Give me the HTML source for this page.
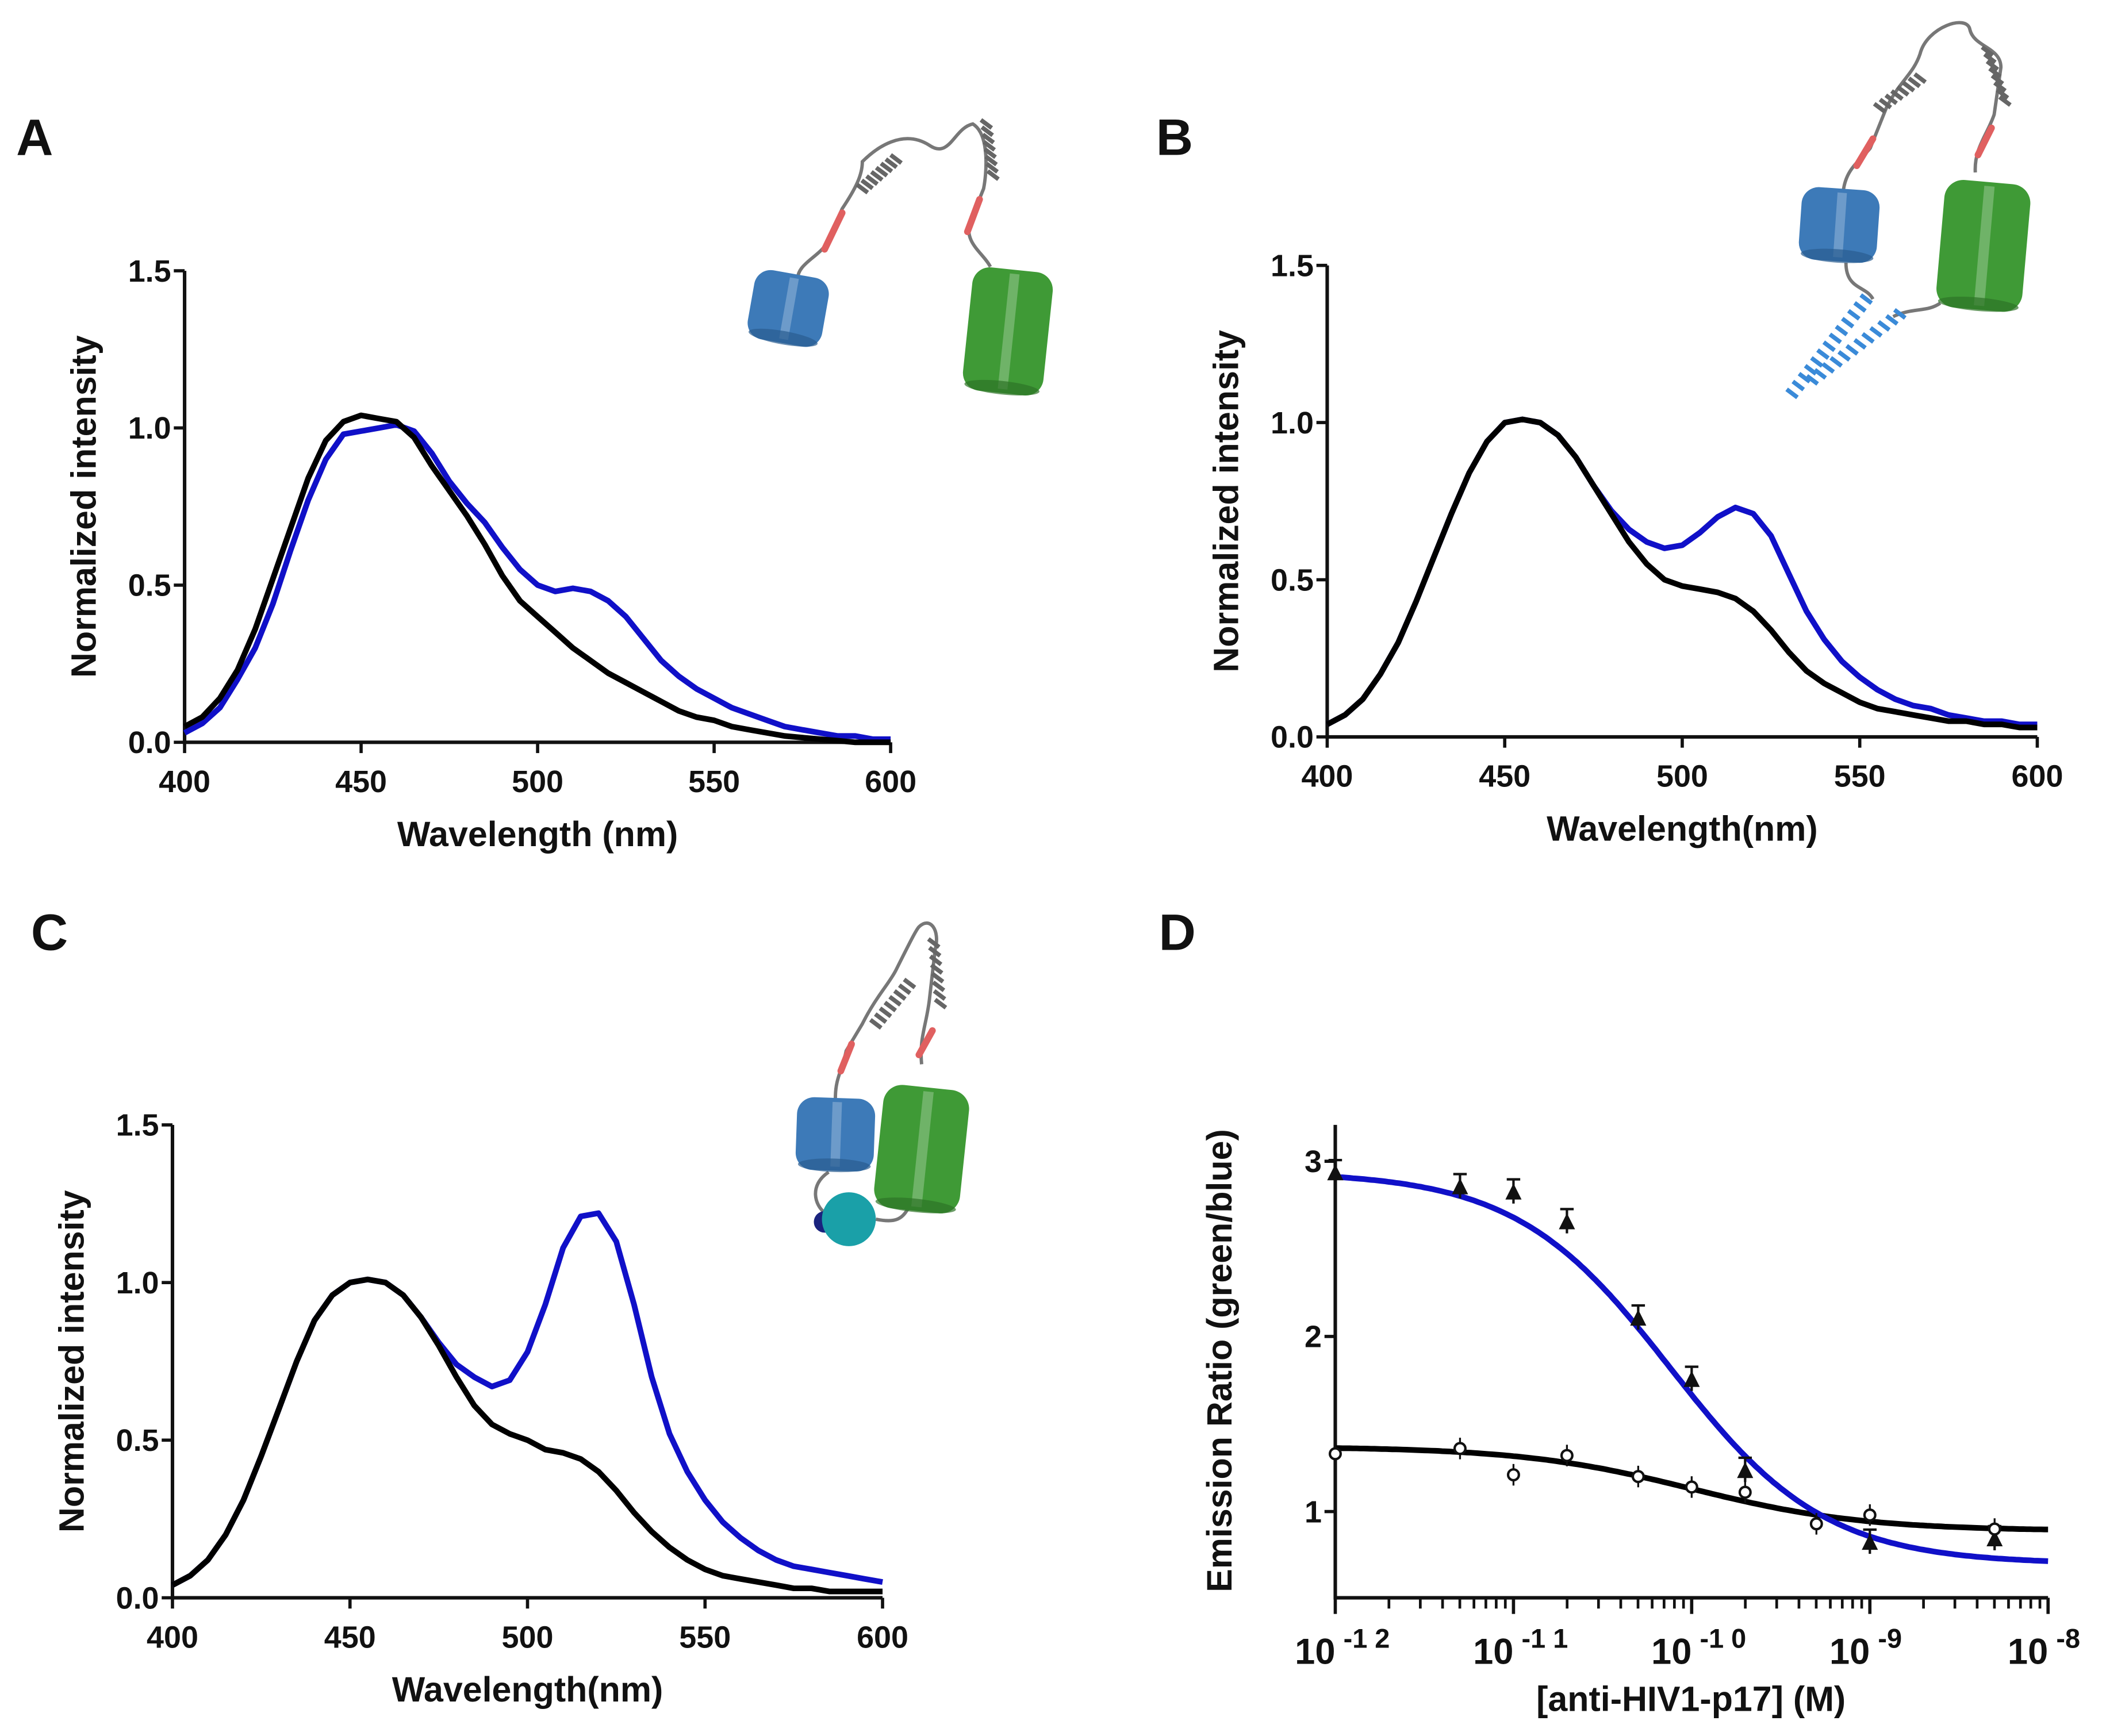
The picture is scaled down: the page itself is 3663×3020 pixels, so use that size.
<!DOCTYPE html>
<html><head><meta charset="utf-8"><style>
html,body{margin:0;padding:0;background:#fff}
svg{display:block}
text{font-family:"Liberation Sans",Arial,sans-serif;font-weight:bold;fill:#111}
</style></head><body>
<svg id="fig" xmlns="http://www.w3.org/2000/svg" width="3663" height="3020" viewBox="0 0 1563 1288.6" preserveAspectRatio="none">
<g id="root"></g>
</svg>
<script>
// ---- data ----
const wl = [400,405,410,415,420,425,430,435,440,445,450,455,460,465,470,475,480,485,490,495,500,505,510,515,520,525,530,535,540,545,550,555,560,565,570,575,580,585,590,595,600];
const aBlack = [0.05,0.08,0.14,0.23,0.36,0.52,0.68,0.84,0.96,1.02,1.04,1.03,1.02,0.97,0.88,0.80,0.72,0.63,0.53,0.45,0.40,0.35,0.30,0.26,0.22,0.19,0.16,0.13,0.10,0.08,0.07,0.05,0.04,0.03,0.02,0.015,0.01,0.005,0.0,0.0,0.0];
const aBlue = [0.03,0.06,0.11,0.20,0.30,0.44,0.61,0.77,0.90,0.98,0.99,1.00,1.01,0.99,0.92,0.83,0.76,0.70,0.62,0.55,0.50,0.48,0.49,0.48,0.45,0.40,0.33,0.26,0.21,0.17,0.14,0.11,0.09,0.07,0.05,0.04,0.03,0.02,0.02,0.01,0.01];
const bBlack = [0.04,0.07,0.12,0.20,0.30,0.43,0.57,0.71,0.84,0.94,1.00,1.01,1.00,0.96,0.89,0.80,0.71,0.62,0.55,0.50,0.48,0.47,0.46,0.44,0.40,0.34,0.27,0.21,0.17,0.14,0.11,0.09,0.08,0.07,0.06,0.05,0.05,0.04,0.04,0.03,0.03];
const bBlue = [0.04,0.07,0.12,0.20,0.30,0.43,0.57,0.71,0.84,0.94,1.00,1.01,1.00,0.96,0.89,0.80,0.72,0.66,0.62,0.60,0.61,0.65,0.70,0.73,0.71,0.64,0.52,0.40,0.31,0.24,0.19,0.15,0.12,0.10,0.09,0.07,0.06,0.05,0.05,0.04,0.04];
const cBlack = [0.04,0.07,0.12,0.20,0.31,0.45,0.60,0.75,0.88,0.96,1.00,1.01,1.00,0.96,0.89,0.80,0.70,0.61,0.55,0.52,0.50,0.47,0.46,0.44,0.40,0.34,0.27,0.21,0.16,0.12,0.09,0.07,0.06,0.05,0.04,0.03,0.03,0.02,0.02,0.02,0.02];
const cBlue = [0.04,0.07,0.12,0.20,0.31,0.45,0.60,0.75,0.88,0.96,1.00,1.01,1.00,0.96,0.89,0.81,0.74,0.70,0.67,0.69,0.78,0.93,1.11,1.21,1.22,1.13,0.93,0.70,0.52,0.40,0.31,0.24,0.19,0.15,0.12,0.10,0.09,0.08,0.07,0.06,0.05];
const specXTicks = [400,450,500,550,600];
const specYTicks = [0.0,0.5,1.0,1.5];
const specYLabels = ["0.0","0.5","1.0","1.5"];
// panel D
const dBlueLogX = [-12,-11.3,-11,-10.7,-10.3,-10,-9.7,-9,-8.3];
const dBlueY = [2.93,2.85,2.82,2.65,2.10,1.75,1.23,0.82,0.84];
const dBlackLogX = [-12,-11.3,-11,-10.7,-10.3,-10,-9.7,-9.3,-9,-8.3];
const dBlackY = [1.33,1.36,1.21,1.32,1.20,1.14,1.11,0.93,0.98,0.90];
const dBlueFit = [2.94,0.70,-10.12,1.0]; // top,bottom,logEC50,hill
const dBlackFit = [1.37,0.89,-10.0,0.9];
const dYTicks = [1,2,3];
const dXDecades = [-12,-11,-10,-9,-8];
const dXLabels = ["-1 2","-1 1","-1 0","-9","-8"];

const NS="http://www.w3.org/2000/svg";
const root=document.getElementById('root');
function el(tag,attrs,parent,txt){const e=document.createElementNS(NS,tag);for(const k in attrs)e.setAttribute(k,attrs[k]);if(txt!==undefined)e.textContent=txt;(parent||root).appendChild(e);return e;}

function specPanel(id,x0,x1,y0,y15,series,xtitle,letter,lx,ly){
  const g=el('g',{});
  
  
  const sx=v=>x0+(v-400)/200*(x1-x0);
  const sy=v=>y0+(v/1.5)*(y15-y0);
  const L=el('text',{x:lx,y:ly,'font-size':38},g,letter);
  
  
  const ax=el('path',{d:`M${x0},${y15} V${y0} H${x1}`,stroke:'#111','stroke-width':2.6,fill:'none'},g);
  
  
  specXTicks.forEach(t=>{
    el('line',{x1:sx(t),x2:sx(t),y1:y0,y2:y0+8,stroke:'#111','stroke-width':2.4},g);
    const tl=el('text',{x:sx(t),y:y0+37,'font-size':23,'text-anchor':'middle'},g,String(t));
    
    
  });
  specYTicks.forEach((t,i)=>{
    el('line',{x1:x0-8,x2:x0,y1:sy(t),y2:sy(t),stroke:'#111','stroke-width':2.4},g);
    const tl=el('text',{x:x0-10,y:sy(t)+8,'font-size':23,'text-anchor':'end'},g,specYLabels[i]);
    
    
  });
  const xt=el('text',{x:(x0+x1)/2,y:y0+77,'font-size':26,'text-anchor':'middle'},g,xtitle);
  
  
  const yc=(y0+y15)/2, yx=x0-66;
  const yt=el('text',{x:yx,y:yc,'font-size':26,'text-anchor':'middle',transform:`rotate(-90 ${yx} ${yc})`},g,'Normalized intensity');
  
  
  series.forEach(s=>{
    const d=wl.map((w,i)=>(i?'L':'M')+sx(w).toFixed(1)+','+sy(s.v[i]).toFixed(1)).join(' ');
    const p=el('path',{d,stroke:s.c,'stroke-width':4.2,fill:'none','stroke-linejoin':'round'},g);
    
    
  });
  return g;
}
specPanel('a',137,661,551,201,[{v:aBlue,c:'#1010c8',n:'series-blue'},{v:aBlack,c:'#000',n:'series-black'}],'Wavelength (nm)','A',12,115);
specPanel('b',985,1512,547,197,[{v:bBlue,c:'#1010c8',n:'series-blue'},{v:bBlack,c:'#000',n:'series-black'}],'Wavelength(nm)','B',858,115);
specPanel('c',128,655,1186,835,[{v:cBlue,c:'#1010c8',n:'series-blue'},{v:cBlack,c:'#000',n:'series-black'}],'Wavelength(nm)','C',23,705);

// ---- panel D ----
(function(){
  const g=el('g',{});
  
  
  const x0=991,x1=1520,yb=1186,ytop=835;
  const sx=lx=>x0+(lx+12)/4*(x1-x0);
  const sy=v=>1122-(v-1)*130;
  const L=el('text',{x:860,y:705,'font-size':38},g,'D');
  
  
  el('path',{d:`M${x0},${ytop} V${yb} H${x1}`,stroke:'#111','stroke-width':2.6,fill:'none'},g);
  dYTicks.forEach(t=>{
    el('line',{x1:x0-8,x2:x0,y1:sy(t),y2:sy(t),stroke:'#111','stroke-width':2.4},g);
    const tl=el('text',{x:x0-10,y:sy(t)+8,'font-size':23,'text-anchor':'end','font-weight':'normal'},g,String(t));
    
    
  });
  dXDecades.forEach((dcd,i)=>{
    el('line',{x1:sx(dcd),x2:sx(dcd),y1:yb,y2:yb+12,stroke:'#111','stroke-width':2.4},g);
    if(i<dXDecades.length-1){for(let m=2;m<10;m++){const xx=sx(dcd+Math.log10(m));el('line',{x1:xx,x2:xx,y1:yb,y2:yb+8,stroke:'#111','stroke-width':2},g);}}
    const tl=el('text',{x:sx(dcd)-30,y:yb+49,'font-size':27},g);
    
    
    el('tspan',{},tl,'10');
    el('tspan',{dx:6,dy:-12,'font-size':20},tl,dXLabels[i]);
  });
  const xt=el('text',{x:1255,y:1270,'font-size':26,'text-anchor':'middle'},g,'[anti-HIV1-p17] (M)');
  
  
  const yt=el('text',{x:914,y:1010,'font-size':26,'text-anchor':'middle',transform:'rotate(-90 914 1010)'},g,'Emission Ratio (green/blue)');
  
  
  function fit(p,c,n){
    let d='';for(let i=0;i<=200;i++){const lx=-12+4*i/200;const v=p[1]+(p[0]-p[1])/(1+Math.pow(10,(lx-p[2])*p[3]));d+=(i?'L':'M')+sx(lx).toFixed(1)+','+sy(v).toFixed(1);}
    const pa=el('path',{d,stroke:c,'stroke-width':4.2,fill:'none'},g);
    
    
  }
  fit(dBlackFit,'#000','fit-black');
  fit(dBlueFit,'#1010c8','fit-blue');
  dBlueLogX.forEach((lx,i)=>{
    const x=sx(lx),y=sy(dBlueY[i]);
    el('line',{x1:x,x2:x,y1:y-10,y2:y+8,stroke:'#111','stroke-width':1.8},g);
    el('line',{x1:x-5,x2:x+5,y1:y-10,y2:y-10,stroke:'#111','stroke-width':1.8},g);
    const m=el('path',{d:`M${x},${y-7} L${x+6},${y+5} L${x-6},${y+5}Z`,fill:'#111'},g);
    
    
  });
  dBlackLogX.forEach((lx,i)=>{
    const x=sx(lx),y=sy(dBlackY[i]);
    el('line',{x1:x,x2:x,y1:y-8,y2:y+8,stroke:'#111','stroke-width':1.4},g);
    const m=el('circle',{cx:x,cy:y,r:4,fill:'#fff',stroke:'#111','stroke-width':1.8},g);
    
    
  });
})();

// ---- schematics ----
function cyl(g,x,y,w,h,rot,col,dark){
  const c=el('g',{transform:`rotate(${rot} ${x+w/2} ${y+h/2})`},g);
  el('rect',{x,y,width:w,height:h,rx:w*0.22,fill:col},c);
  el('rect',{x:x+w*0.45,y:y+3,width:w*0.12,height:h-6,fill:'#ffffff',opacity:0.25},c);
  el('ellipse',{cx:x+w/2,cy:y+h-4,rx:w/2-2,ry:5,fill:dark,opacity:0.7},c);
}
function helix(g,x1,y1,x2,y2,col,n){
  let d='';for(let i=0;i<=n;i++){const t=i/n;const x=x1+(x2-x1)*t,y=y1+(y2-y1)*t;d+=`M${x-4},${y-3} L${x+4},${y+3} `;}
  el('path',{d,stroke:col,'stroke-width':3.2,fill:'none'},g);
}
function schem(name,parts){
  const g=el('g',{});
  
  
  parts(g);
}
schem('schematic-a',g=>{
  el('path',{d:'M592,207 C592,195 610,190 615,178 L625,155 C635,140 640,130 640,120 C650,110 670,95 690,108 C705,118 708,95 722,92 C735,100 732,130 730,140 L720,165 C715,180 730,188 735,198',stroke:'#777','stroke-width':2.5,fill:'none'},g);
  el('line',{x1:612,y1:185,x2:625,y2:158,stroke:'#e06060','stroke-width':5,'stroke-linecap':'round'},g);
  el('line',{x1:718,y1:172,x2:727,y2:148,stroke:'#e06060','stroke-width':5,'stroke-linecap':'round'},g);
  helix(g,640,140,665,118,'#666',7);helix(g,732,92,737,130,'#666',7);
  cyl(g,557,203,56,52,10,'#3d7ab8','#2a5d90');
  cyl(g,718,200,60,92,6,'#3f9a36','#2d7326');
});
schem('schematic-b',g=>{
  el('path',{d:'M1368,142 C1370,125 1380,120 1388,110 L1400,80 C1410,60 1420,55 1425,40 C1430,20 1460,10 1462,22 C1465,35 1485,35 1485,50 L1480,85 C1475,100 1465,110 1466,128 M1370,195 C1370,215 1385,212 1390,222 M1405,235 C1420,228 1430,232 1440,225',stroke:'#777','stroke-width':2.5,fill:'none'},g);
  el('line',{x1:1378,y1:123,x2:1390,y2:103,stroke:'#e06060','stroke-width':5,'stroke-linecap':'round'},g);
  el('line',{x1:1468,y1:115,x2:1478,y2:95,stroke:'#e06060','stroke-width':5,'stroke-linecap':'round'},g);
  helix(g,1395,80,1425,58,'#666',7);helix(g,1475,38,1488,75,'#666',7);
  helix(g,1385,222,1330,292,'#3a8ad8',12);helix(g,1410,233,1345,282,'#3a8ad8',11);
  cyl(g,1336,140,58,54,4,'#3d7ab8','#2a5d90');
  cyl(g,1440,135,64,95,5,'#3f9a36','#2d7326');
});
schem('schematic-c',g=>{
  el('path',{d:'M620,815 C620,800 625,795 628,780 L640,760 C650,740 660,730 665,720 C675,700 680,690 682,688 C690,680 698,690 694,705 L690,740 C688,760 682,770 684,790 M615,870 C600,880 605,895 612,900 M650,905 C665,908 670,905 675,895',stroke:'#777','stroke-width':2.5,fill:'none'},g);
  el('line',{x1:624,y1:795,x2:632,y2:775,stroke:'#e06060','stroke-width':5,'stroke-linecap':'round'},g);
  el('line',{x1:682,y1:783,x2:692,y2:765,stroke:'#e06060','stroke-width':5,'stroke-linecap':'round'},g);
  helix(g,650,760,675,730,'#666',7);helix(g,693,700,698,745,'#666',7);
  cyl(g,591,815,58,54,2,'#3d7ab8','#2a5d90');
  cyl(g,652,807,64,92,6,'#3f9a36','#2d7326');
  el('circle',{cx:612,cy:907,r:8,fill:'#1a237e'},g);
  el('circle',{cx:630,cy:905,r:20,fill:'#1aa0a8'},g);
});
</script>
</body></html>
